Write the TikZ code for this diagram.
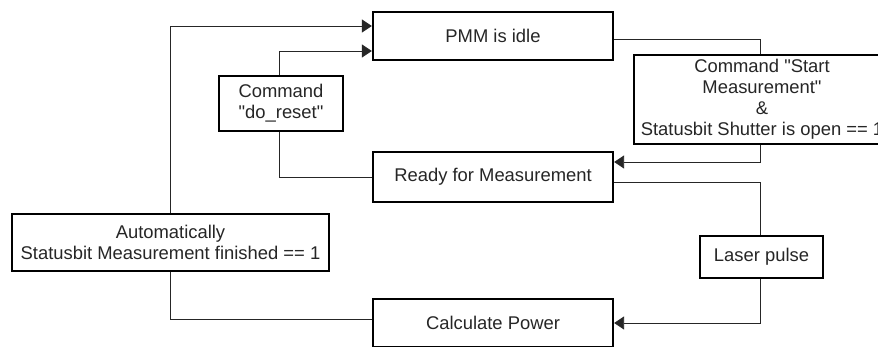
\documentclass[tikz,border=0pt]{standalone}
\usepackage{fontspec}
\setmainfont{Liberation Sans}
\usetikzlibrary{arrows.meta}
\begin{document}
\begin{tikzpicture}[x=1pt,y=-1pt,
  box/.style={draw=black, line width=2.3pt, inner sep=0pt, align=center,
    text=black!85, font=\fontsize{18.4}{21}\selectfont},
  conn/.style={draw=black!85, line width=0.9pt},
  arr/.style={conn, -{Triangle[length=10pt,width=13pt]}}]
\useasboundingbox (0,0) rectangle (878,347);
\clip (0,0) rectangle (878,347);
\fill[white] (0,0) rectangle (878,347);
% nodes
\node[box, minimum width=240pt, minimum height=48pt] (pmm) at (493,36) {PMM is idle};
\node[box, minimum width=124pt, minimum height=55pt] (reset) at (281,103.5) {Command\\\textquotedbl do\_reset\textquotedbl};
\node[box, minimum width=256pt, minimum height=89pt] (start) at (762,99.5) {Command \textquotedbl Start\\Measurement\textquotedbl\\\&\\Statusbit Shutter is open == 1};
\node[box, minimum width=240pt, minimum height=50pt] (ready) at (493,177) {Ready for Measurement};
\node[box, minimum width=317pt, minimum height=57pt] (auto) at (170.5,242.5) {Automatically\\Statusbit Measurement finished == 1};
\node[box, minimum width=123pt, minimum height=42pt] (laser) at (761.5,257) {Laser pulse};
\node[box, minimum width=240pt, minimum height=48pt] (calc) at (493,323) {Calculate Power};
% connectors
\draw[arr] (auto.north) |- ([yshift=10pt]pmm.west);
\draw[arr] ([xshift=-2pt]reset.north) |- ([yshift=-15pt]pmm.west);
\draw[conn] ([yshift=-3pt]pmm.east) -| ([xshift=-2pt]start.north);
\draw[arr] ([xshift=-2pt]start.south) |- ([yshift=15pt]ready.east);
\draw[conn] ([yshift=-5pt]ready.east) -| ([xshift=-1.5pt]laser.north);
\draw[arr] ([xshift=-1.5pt]laser.south) |- (calc.east);
\draw[conn] (auto.south) |- ([yshift=4pt]calc.west);
\draw[conn] ([xshift=-2pt]reset.south) |- (ready.west);
\end{tikzpicture}
\end{document}
